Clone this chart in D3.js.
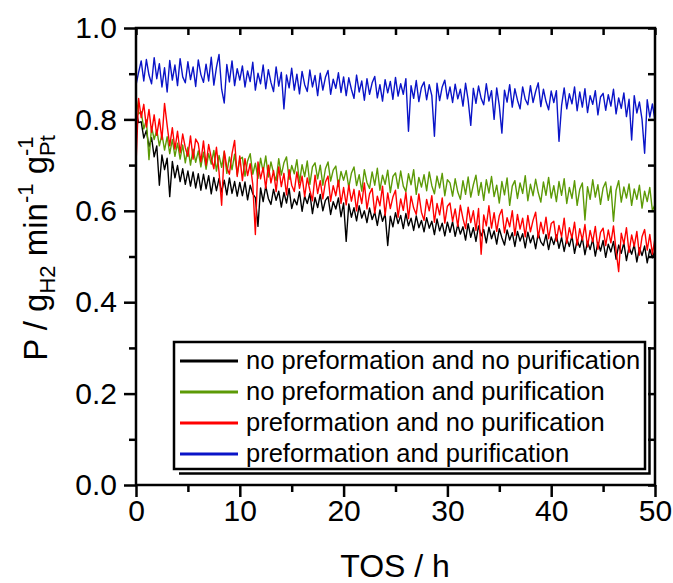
<!DOCTYPE html>
<html>
<head>
<meta charset="utf-8">
<script src="https://cdn.jsdelivr.net/npm/d3@7"></script>
<style>
  body { margin: 0; background: #fff; }
  svg text { font-family: "Liberation Sans", Arial, sans-serif; fill: #000; }
</style>
</head>
<body>
<svg id="chart" width="673" height="583"></svg>
<script>
// time on stream, one reading every 0.25 h
var step = 0.25

var xMajor = [0, 10, 20, 30, 40, 50]
var xMinor = [5, 15, 25, 35, 45]
var yMajor = [0, 0.2, 0.4, 0.6, 0.8, 1.0]
var yMinor = [0.1, 0.3, 0.5, 0.7, 0.9]

var labels = [
  "no preformation and no purification",
  "no preformation and purification",
  "preformation and no purification",
  "preformation and purification"
]

// P / gH2 min-1 gPt-1
var blackVals = [
  .818,.793,.795,.759,.776,.740,.760,.718,.742,.656,
  .722,.690,.715,.631,.708,.672,.699,.664,.692,.658,
  .687,.654,.685,.650,.681,.645,.680,.648,.677,.637,
  .673,.644,.671,.641,.667,.635,.672,.638,.664,.632,
  .662,
  .633,.663,.624,.656,.637,.629,.566,.650,.620,.654,
  .627,.614,.647,.623,.643,.608,.640,.617,.649,.605,
  .626,.613,.642,.599,.632,.616,.638,.594,.629,.607,
  .636,.600,.623,.631,.592,.620,.604,.628,.587,.617,
  .533,.615,.586,.607,.578,.611,.584,.600,.574,.606,
  .581,.597,.568,.602,.577,.593,.524,.588,.565,.596,
  .572,.590,.561,.594,.567,.584,.557,.589,.563,.579,
  .554,.585,.562,.577,.548,.582,.556,.573,.545,.575,
  .553,.576,.544,.570,.549,.565,.536,.572,.542,.563,
  .533,.567,.545,.559,.530,.564,.539,.556,.527,.561,
  .541,.525,.558,.536,.552,.522,.555,.534,.550,.519,
  .553,.530,.546,.517,.551,.532,.524,.548,.515,.543,
  .526,.547,.518,.542,.511,.539,.522,.545,.507,.536,
  .520,.541,.504,.533,.515,.538,.501,.531,.512,.535,
  .498,.527,.510,.533,.494,.525,.507,.530,.491,.521,
  .505,.526,.488,.519,.502,.523,.486,.516,.497,.514
]

var greenVals = [
  .848,.812,.817,.779,.799,.712,.784,.756,.777,.742,
  .768,.733,.762,.725,.756,.719,.748,.713,.744,.705,
  .739,.700,.735,.706,.731,.696,.728,.691,.725,.702,
  .732,.687,.721,.695,.729,.682,.718,.690,.724,.679,
  .713,
  .717,.676,.709,.725,.680,.704,.671,.715,.685,.720,
  .674,.707,.683,.666,.714,.678,.705,.718,.669,.699,
  .681,.712,.662,.701,.675,.709,.658,.696,.705,.670,
  .700,.656,.692,.707,.665,.689,.698,.653,.686,.667,
  .688,.651,.682,.696,.655,.679,.643,.690,.662,.649,
  .685,.656,.693,.645,.678,.658,.689,.640,.675,.683,
  .649,.687,.654,.642,.681,.657,.690,.636,.673,.652,
  .679,.644,.685,.655,.637,.676,.650,.682,.633,.668,
  .661,.632,.670,.641,.625,.666,.636,.674,.630,.657,
  .678,.634,.662,.623,.668,.639,.675,.631,.656,.617,
  .664,.635,.672,.612,.654,.666,.627,.661,.638,.677,
  .622,.658,.633,.669,.640,.619,.663,.634,.673,.628,
  .655,.620,.664,.634,.670,.616,.651,.627,.666,.612,
  .647,.661,.580,.653,.625,.668,.630,.657,.614,.650,
  .663,.623,.654,.577,.645,.666,.619,.652,.628,.659,
  .612,.648,.625,.656,.606,.643,.620,.651,.600,.614
]

var redVals = [
  .702,.846,.804,.833,.783,.822,.772,.810,.765,.801,
  .756,.835,.787,.742,.782,.735,.774,.727,.768,.738,
  .719,.764,.713,.757,.747,.707,.753,.700,.745,.716,
  .692,.739,.685,.612,.731,.695,.680,.725,.754,.675,
  .720,
  .666,.714,.677,.703,.658,.548,.707,.670,.695,.649,
  .700,.661,.688,.642,.696,.653,.682,.635,.690,.656,
  .642,.685,.649,.676,.631,.672,.645,.622,.678,.638,
  .666,.626,.663,.676,.621,.655,.633,.667,.616,.651,
  .613,.656,.621,.647,.600,.644,.616,.661,.604,.637,
  .649,.595,.632,.611,.654,.590,.639,.605,.630,.645,
  .586,.626,.601,.640,.583,.632,.606,.592,.637,.597,
  .579,.625,.600,.633,.575,.616,.591,.628,.573,.610,
  .617,.577,.604,.566,.612,.583,.561,.608,.574,.600,
  .557,.605,.505,.591,.567,.611,.562,.596,.555,.589,
  .603,.552,.585,.565,.600,.546,.592,.560,.584,.543,
  .590,.554,.579,.597,.541,.575,.550,.586,.539,.572,
  .577,.534,.568,.543,.584,.529,.563,.540,.575,.525,
  .561,.536,.570,.521,.557,.532,.566,.516,.553,.562,
  .524,.558,.530,.567,.513,.467,.551,.527,.563,.509,
  .547,.522,.555,.503,.543,.559,.514,.548,.505,.540
]

var blueVals = [
  .875,.903,.928,.884,.931,.897,.878,.935,.889,.922,
  .871,.913,.860,.929,.886,.919,.874,.933,.893,.880,
  .926,.887,.915,.872,.930,.898,.881,.921,.884,.936,
  .875,.914,.942,.866,.836,.920,.882,.928,.874,.911,
  .886,
  .917,.871,.906,.883,.925,.864,.901,.878,.919,.867,
  .909,.881,.861,.915,.873,.903,.823,.897,.869,.912,
  .864,.899,.856,.905,.876,.861,.908,.871,.896,.852,
  .901,.864,.892,.907,.855,.888,.868,.902,.859,.893,
  .852,.891,.866,.846,.897,.860,.884,.842,.889,.855,
  .880,.894,.847,.876,.840,.887,.858,.883,.844,.892,
  .851,.878,.855,.889,.774,.874,.846,.885,.839,.870,
  .882,.843,.876,.852,.763,.879,.841,.871,.886,.845,
  .871,.837,.877,.845,.866,.829,.879,.842,.787,.868,
  .835,.873,.846,.832,.878,.840,.863,.800,.869,.830,
  .770,.864,.838,.876,.827,.867,.842,.823,.871,.844,
  .832,.874,.837,.861,.880,.828,.866,.839,.821,.862,
  .837,.863,.752,.830,.869,.823,.856,.834,.871,.819,
  .860,.827,.867,.815,.852,.833,.863,.810,.849,.857,
  .820,.854,.829,.866,.812,.847,.824,.858,.806,.844,
  .755,.852,.814,.838,.800,.726,.843,.805,.834,.797
]

var series = [
  { label: labels[0], color: "#000000", values: blackVals },
  { label: labels[1], color: "#5c9a06", values: greenVals },
  { label: labels[2], color: "#ff0000", values: redVals },
  { label: labels[3], color: "#0a14c8", values: blueVals }
]

var svg = d3.select("#chart")

var x = d3.scaleLinear().domain([0, 50]).range([136, 655])
var y = d3.scaleLinear().domain([0, 1]).range([485, 28])

var line = d3.line()
  .x(function (d, i) { return x(i * step) })
  .y(function (d) { return y(d) })

svg.append("g")
  .attr("class", "lines")
  .selectAll("path")
  .data(series)
  .enter().append("path")
    .attr("d", function (s) { return line(s.values) })
    .attr("fill", "none")
    .attr("stroke", function (s) { return s.color })
    .attr("stroke-width", 1.4)
    .attr("stroke-linejoin", "round")

function styleAxis(g, fontSize) {
  g.attr("font-size", fontSize).attr("font-family", null)
  g.select(".domain").remove()
  g.selectAll("line").attr("stroke", "#000").attr("stroke-width", 2.5)
}

// bottom
svg.append("g")
  .attr("transform", "translate(0," + y(0) + ")")
  .call(d3.axisBottom(x).tickValues(xMajor).tickSize(12).tickPadding(3).tickFormat(d3.format("d")))
  .call(styleAxis, 30)
svg.append("g")
  .attr("transform", "translate(0," + y(0) + ")")
  .call(d3.axisBottom(x).tickValues(xMinor).tickSize(7).tickFormat(""))
  .call(styleAxis, 30)

// left
svg.append("g")
  .attr("transform", "translate(" + x(0) + ",0)")
  .call(d3.axisLeft(y).tickValues(yMajor).tickSize(12).tickPadding(7).tickFormat(d3.format(".1f")))
  .call(styleAxis, 30)
svg.append("g")
  .attr("transform", "translate(" + x(0) + ",0)")
  .call(d3.axisLeft(y).tickValues(yMinor).tickSize(7).tickFormat(""))
  .call(styleAxis, 30)

// top and right, ticks pointing in
svg.append("g")
  .attr("transform", "translate(0," + y(1) + ")")
  .call(d3.axisTop(x).tickValues(xMajor.concat(xMinor)).tickSize(-7).tickFormat(""))
  .call(styleAxis, 30)
svg.append("g")
  .attr("transform", "translate(" + x(50) + ",0)")
  .call(d3.axisRight(y).tickValues(yMajor.concat(yMinor)).tickSize(-7).tickFormat(""))
  .call(styleAxis, 30)

svg.append("rect")
  .attr("x", x(0)).attr("y", y(1))
  .attr("width", x(50) - x(0)).attr("height", y(0) - y(1))
  .attr("fill", "none").attr("stroke", "#000").attr("stroke-width", 2.5)

// axis titles
svg.append("text")
  .attr("x", 395).attr("y", 577)
  .attr("text-anchor", "middle")
  .attr("font-size", 32)
  .text("TOS / h")

var yTitle = svg.append("g").attr("transform", "translate(47,248) rotate(-90)")
var yt = yTitle.append("text").attr("font-size", 33)
yt.append("tspan").text("P / g")
yt.append("tspan").attr("font-size", 22).attr("dy", 8).text("H2")
yt.append("tspan").attr("dy", -8).text(" min")
yt.append("tspan").attr("font-size", 22).attr("dy", -14).text("-1")
yt.append("tspan").attr("dy", 14).text(" g")
var subPt = yt.append("tspan").attr("font-size", 22).attr("dy", 8).text("Pt")
yt.append("tspan").attr("font-size", 22).attr("dy", -22)
  .attr("dx", -subPt.node().getComputedTextLength())
  .text("-1")
var bb = yt.node().getBBox()
yt.attr("x", -bb.x - bb.width / 2)

// legend
var legend = svg.append("g").attr("class", "legend")
legend.append("path")
  .attr("d", "M179,473.5H649.5V347")
  .attr("fill", "none").attr("stroke", "#000").attr("stroke-width", 2.5)
legend.append("rect")
  .attr("x", 174).attr("y", 342).attr("width", 471).attr("height", 127)
  .attr("fill", "#fff").attr("stroke", "#000").attr("stroke-width", 2.5)

var rows = legend.selectAll("g.row")
  .data(series)
  .enter().append("g")
    .attr("class", "row")
    .attr("transform", function (s, i) { return "translate(0," + (361 + i * 31) + ")" })
rows.append("line")
  .attr("x1", 180).attr("x2", 238)
  .attr("stroke", function (s) { return s.color })
  .attr("stroke-width", 3)
rows.append("text")
  .attr("x", 246).attr("y", 8)
  .attr("font-size", 25.5)
  .text(function (s) { return s.label })
</script>
</body>
</html>
